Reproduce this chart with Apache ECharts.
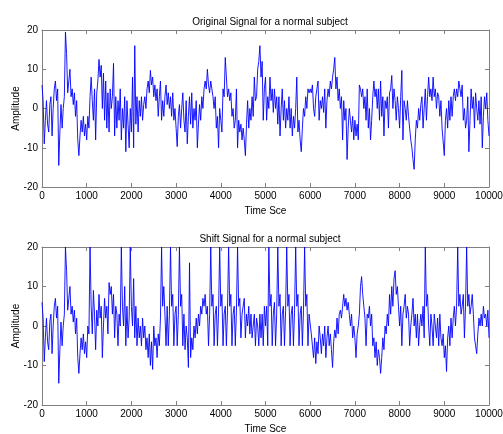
<!DOCTYPE html>
<html>
<head>
<meta charset="utf-8">
<script src="https://cdn.jsdelivr.net/npm/echarts@6/dist/echarts.min.js"></script>
<style>
  html, body { margin: 0; padding: 0; background: #fff; }
  #chart { width: 503px; height: 434px; }
</style>
</head>
<body>
<div id="chart"></div>
<script>
// sample spacing of the values below (Time Sce units)
const sampleStep = 25;

// original signal, one value every 25 samples, 0 .. 10000
const originalSignal = [
  6, 2, -9, -3, 2, -4, -6, 1, 3, -7, 0, 5, 7, 2, 5, -14.5, -6, 1, -5, 0,
  3, 19.5, 14, 4, 7, 10, 3, 5, 1, 4, -2, 2, -8, -12, -7, -3, -6, -2, -7, -4,
  -8, -2, -5, 3, 8, 2, -3, 5, -8, 4, 7, 12.5, 8, 11, 0, 9, -3, 7, -5, 4,
  -6, 5, 0, 3, 11.5, -7, 3, -5, 2, -3, 5, -8, 0, -5, 3, -11, 2, -4, -10, 0,
  -6, 8, -10, 16, -4, 3, -6, 2, -2, 3, -3, 1, 3, 0, 5, 7, 4, 9.7, 6, 8,
  3, 6, 2, 5, -2, 3, 7, -3, 2, -2, 3, 6, 1, 4, 0, 3, -2, 4, -3, 0,
  -5, -9.7, -2, 1, -5, 0, 4, -3, -6, 2, -9, -2, 3, -4, 4, -5, 0, -3, 2, -10,
  -4, 1, -3, 3, 0, 5, 7, 5, 10, 6, 4, 7, 5, 3, 0, 3, -5, -2, -10, 0,
  -3, -6, 5, 3, 13, 8, 3, 5, 2, 4, -2, 0, -5, -3, 5, -10, -3, -6, -4, -8,
  -5, -8, -12, -4, 2, -5, 0, -3, 3, -2, 8, 2, 3, 10, 12, 16, 8, 12, -3, 5,
  8, -3, 3, 0, 8, 2, 5, -1, 5, 0, 3, -4, 3, -7, 0, 5, -3, 2, -5, 0,
  -3, 3, -5, 0, -7, -2, -5, 0, 8, -6, -3, -8, -11, -5, 0, -2, 3, 0, 5, 4,
  5, 4, 6, 0, -2, 3, 5, 7, -3, 2, 0, 3, -1, 5, -5, 2, 5, 3, 7, 5,
  8, 10, 13, 5, 8, 2, 5, 0, 3, -8, 2, -3, 0, -13, -5, 0, -3, -6, -2, -8,
  -3, -7, -4, -8, 6, 5, 3, 5, 0, 3, -3, 5, -5, 0, -8, -3, 3, 7, 3, 5,
  0, 5, -3, 7, -2, 3, -7, 2, 0, 3, -5, 4, 5, 8.4, 0, 5, 2, -3, 3, 0,
  -5, 3, 9.7, -8, 2, 0, -3, 2, -2, -5, -8, -10, -13, -15.5, -8, -3, -5, 0, -3, 1,
  3, -5, 0, 5, -3, 3, 8, 3, 5, 2, 8, 3, 5, 0, 4, 3, -2, 2, -5, -5,
  -12, -3, 0, -5, 2, -3, 3, -2, 3, 5, 2, 5, 3, 7, 5, 3, 6, -3, 0, -5,
  -3, 3, -11, -3, 5, 0, 3, -5, 4, 0, -3, 2, -4, 3, -10, -2, 3, 0, 4, -3,
  -7
];

// shifted signal, same sampling
const shiftSignal = [
  6, 2, -9, -3, 2, -4, -6, 1, 3, -7, 0, 5, 7, 2, 5, -14.5, -6, 1, -5, 0,
  3, 20, 14, 4, 7, 10, 3, 5, 1, 4, -2, 2, -8, -12, -7, -3, -6, -2, -7, -4,
  -8, 0, -2, 20, 5, -2, 9, 3, -6, 4, 0, 8, 2, 5, -8, 0, 7, 2, 5, -2,
  11, 8, 10, 3, 8, -3, 5, 3, -5, 3, 0, 20, 5, 0, 10, -5, 5, -3, 2, 20,
  5, 0, 12, -3, 5, -5, 2, -3, 0, -5, 2, -3, 0, -6, -3, -8, -2, -10, -4, -11,
  0, -5, -3, -8, -2, -5, 2, 20, 5, 10, 3, -5, 5, -5, 3, 20, 5, 8, -5, 3,
  5, -5, 3, 20, 5, 8, -5, 3, -6, 0, -3, -10.5, 16, -8, -3, -6, 0, -3, 2, -2,
  3, 0, 5, 3, 7, 5, 8, 3, 5, -5, 3, 20, 5, 8, -5, 3, 5, -5, 4, 20,
  5, 8, -5, 3, 5, -5, 4, 20, 5, 8, -5, 3, 5, -5, 4, 20, 5, 7, -3, 3,
  3, 7, -3, 3, 0, 5, -2, 3, -3, 0, 3, -5, 2, 0, -5, 3, -3, 3, -5, 5,
  0, 5, -5, 20, 5, 8, -5, 3, 6, -5, 3, 20, 5, 8, -5, 3, 5, -5, 4, 20,
  5, 8, -5, 3, 5, -5, 4, 20, 5, 8, -5, 3, 5, -5, 4, 20, 5, 8, -5, 3,
  3, -2, -5, -8, -3, -9.5, -4, -7, 0, -3, -7, -2, -5, 0, -8, -3, 0, -5, -2, -6,
  -10.5, -4, -1, -3, 2, -2, 3, 4, 2, 5, 8, 5, 7, 4, 6, 3, 0, 3, -3, 0,
  -3, -8, -2, 0, 3, 10, 12.5, 8, 5, 2, -5, 3, 2, 5, 0, 3, -5, -3, -8, -4,
  -10, -6, -8, -12, -8, -3, -6, 0, -2, 3, 0, 8, 3, 10, 5, 12, 14, 8, 10, 5,
  0, 5, -5, 3, 5, 8, 2, 5, 3, -5, 0, 3, 7, 0, 3, -3, 3, -5, 0, 3,
  0, 5, -3, 20, 5, 8, 0, -5, 3, 0, -5, 3, 0, -3, 2, -5, 3, -3, -5, -2,
  -8, -5, -11.5, -3, 0, -5, 2, -3, 2, 5, 0, 5, 20, 5, 8, 3, 5, 8, -3, 5,
  20, 5, 8, 3, 5, 8, 3, -3, -5, -7, -2, 2, 0, 3, 0, 5, 2, 3, 0, 4,
  -3
];

const plotTitles = ['Original Signal for a normal subject', 'Shift Signal for a normal subject'];
const xName = 'Time Sce';
const yName = 'Amplitude';

// [time, value] pairs
function toPairs(values) {
  return values.map((v, i) => [i * sampleStep, v]);
}

const font = 'Liberation Sans, Arial, sans-serif';
const boxColor = '#808080';
const grids = [
  { left: 42, right: 14, top: 30, height: 157, outerBoundsMode: 'none', containLabel: false },
  { left: 42, right: 14, top: 247, height: 158, outerBoundsMode: 'none', containLabel: false }
];

const chart = echarts.init(document.getElementById('chart'), null, { renderer: 'canvas' });

const xAxes = [];
const yAxes = [];
grids.forEach((g, i) => {
  // bottom axis with labels
  xAxes.push({
    type: 'value', gridIndex: i, min: 0, max: 10000, interval: 1000,
    name: xName, nameLocation: 'middle', nameGap: 19, nameMoveOverlap: false,
    nameTextStyle: { color: '#000', fontSize: 10, fontFamily: font },
    axisLine: { onZero: false, lineStyle: { color: boxColor } },
    axisTick: { inside: true, length: 4, lineStyle: { color: boxColor } },
    axisLabel: { color: '#000', fontSize: 10, fontFamily: font, margin: 4,
      formatter: v => String(v) },
    splitLine: { show: false }
  });
  // top mirror for the box
  xAxes.push({
    type: 'value', gridIndex: i, position: 'top', min: 0, max: 10000, interval: 1000,
    axisLine: { onZero: false, lineStyle: { color: boxColor } },
    axisTick: { inside: true, length: 4, lineStyle: { color: boxColor } },
    axisLabel: { show: false }, splitLine: { show: false }
  });
  yAxes.push({
    type: 'value', gridIndex: i, min: -20, max: 20, interval: 10,
    name: yName, nameLocation: 'middle', nameGap: 21, nameMoveOverlap: false,
    nameTextStyle: { color: '#000', fontSize: 10, fontFamily: font },
    axisLine: { onZero: false, lineStyle: { color: boxColor } },
    axisTick: { inside: true, length: 4, lineStyle: { color: boxColor } },
    axisLabel: { color: '#000', fontSize: 10, fontFamily: font, margin: 4 },
    splitLine: { show: false }
  });
  yAxes.push({
    type: 'value', gridIndex: i, position: 'right', min: -20, max: 20, interval: 10,
    axisLine: { onZero: false, lineStyle: { color: boxColor } },
    axisTick: { inside: true, length: 4, lineStyle: { color: boxColor } },
    axisLabel: { show: false }, splitLine: { show: false }
  });
});

chart.setOption({
  animation: false,
  backgroundColor: '#fff',
  title: [
    { text: plotTitles[0], left: 265, top: 12, textAlign: 'center',
      textStyle: { fontSize: 10, fontWeight: 'normal', color: '#000', fontFamily: font } },
    { text: plotTitles[1], left: 265, top: 229, textAlign: 'center',
      textStyle: { fontSize: 10, fontWeight: 'normal', color: '#000', fontFamily: font } }
  ],
  grid: grids,
  xAxis: xAxes,
  yAxis: yAxes,
  series: [
    {
      type: 'line', xAxisIndex: 0, yAxisIndex: 0, data: toPairs(originalSignal),
      showSymbol: false, lineStyle: { color: '#0000ff', width: 0.9 }
    },
    {
      type: 'line', xAxisIndex: 2, yAxisIndex: 2, data: toPairs(shiftSignal),
      showSymbol: false, lineStyle: { color: '#0000ff', width: 0.9 }
    }
  ]
});
</script>
</body>
</html>
